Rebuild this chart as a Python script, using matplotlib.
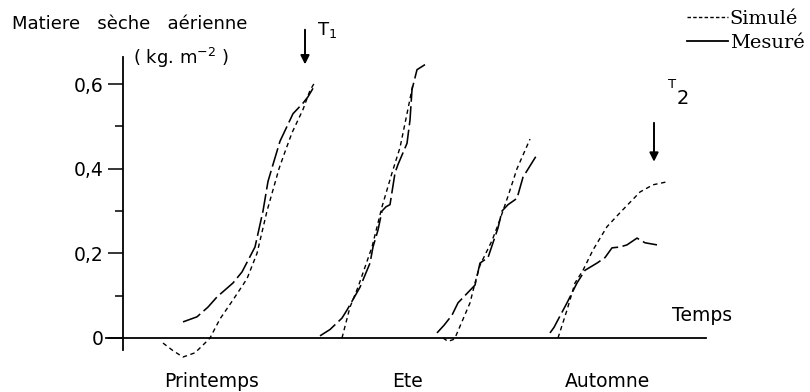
import matplotlib
matplotlib.use("Agg")
import matplotlib.pyplot as plt
from matplotlib.lines import Line2D

# Time axis in arbitrary units (origin at the vertical axis)
# --- Printemps ---
spring_sim_t = [40, 50, 60, 72, 82, 87, 97, 110, 124, 134, 139, 144, 150, 156, 162, 169, 180, 187, 192]
spring_sim_y = [-0.012, -0.03, -0.045, -0.035, -0.012, 0.0, 0.045, 0.09, 0.14, 0.20, 0.25, 0.30, 0.35,
                0.40, 0.44, 0.485, 0.54, 0.585, 0.605]
spring_mes_t = [60, 74, 85, 94, 110, 119, 132, 140, 145, 150, 157, 164, 170, 180, 185, 190]
spring_mes_y = [0.038, 0.05, 0.073, 0.097, 0.13, 0.156, 0.215, 0.30, 0.37, 0.41, 0.465, 0.50, 0.53,
                0.555, 0.57, 0.59]

# --- Ete ---
summer_sim_t = [219, 227, 235, 249, 259, 269, 277, 284, 290]
summer_sim_y = [0.0, 0.073, 0.12, 0.215, 0.31, 0.39, 0.45, 0.53, 0.60]
summer_mes_t = [197, 207, 219, 224, 237, 247, 250, 255, 259, 263, 267, 272, 275, 284, 287, 289, 294, 302]
summer_mes_y = [0.005, 0.02, 0.047, 0.066, 0.12, 0.177, 0.215, 0.255, 0.30, 0.31, 0.315, 0.39, 0.41,
                0.46, 0.515, 0.587, 0.634, 0.646]

# --- Third cycle ---
third_sim_t = [320, 325, 330, 332, 347, 352, 357, 369, 377, 385, 394, 407]
third_sim_y = [0.0, -0.008, -0.004, 0.0, 0.083, 0.13, 0.172, 0.23, 0.28, 0.335, 0.40, 0.47]
third_mes_t = [314, 321, 329, 335, 352, 357, 365, 370, 375, 379, 385, 394, 400, 415]
third_mes_y = [0.012, 0.03, 0.054, 0.083, 0.125, 0.177, 0.19, 0.225, 0.26, 0.30, 0.315, 0.33, 0.38, 0.437]

# --- Automne ---
autumn_sim_t = [435, 444, 452, 460, 470, 484, 497, 517, 530, 544]
autumn_sim_y = [0.0, 0.066, 0.13, 0.16, 0.208, 0.263, 0.296, 0.345, 0.362, 0.369]
autumn_mes_t = [427, 431, 435, 444, 454, 462, 474, 482, 489, 497, 504, 514, 522, 534]
autumn_mes_y = [0.012, 0.025, 0.043, 0.083, 0.13, 0.16, 0.177, 0.19, 0.213, 0.215, 0.22, 0.236,
                0.225, 0.22]

season_labels = ["Printemps", "Ete", "Automne"]
season_label_t = [89, 285, 484]

y_major = [0.0, 0.2, 0.4, 0.6]
y_major_labels = ["0", "0,2", "0,4", "0,6"]
y_minor = [0.1, 0.3, 0.5]

harvest_t = [182, 531]
harvest_labels = ["1", "2"]

SANS = "DejaVu Sans"
SERIF = "DejaVu Serif"
INK = "black"

sim_style = dict(color=INK, lw=1.0, linestyle=(0, (3.2, 2.6)), clip_on=False)
mes_style = dict(color=INK, lw=1.15, linestyle=(0, (12, 2.8)), clip_on=False)

fig = plt.figure(figsize=(8.10, 3.92), dpi=100)
ax = fig.add_axes([106 / 810, 42 / 392, 600 / 810, 293 / 392])
ax.set_xlim(-17, 583)
ax.set_ylim(-0.0284, 0.664)

pairs = [
    (spring_sim_t, spring_sim_y, spring_mes_t, spring_mes_y),
    (summer_sim_t, summer_sim_y, summer_mes_t, summer_mes_y),
    (third_sim_t, third_sim_y, third_mes_t, third_mes_y),
    (autumn_sim_t, autumn_sim_y, autumn_mes_t, autumn_mes_y),
]
for st, sy, mt, my in pairs:
    ax.plot(st, sy, **sim_style)
    ax.plot(mt, my, **mes_style)

# Axes drawn as plain crossing lines
for side in ("top", "right"):
    ax.spines[side].set_visible(False)
ax.spines["left"].set_position(("data", 0))
ax.spines["bottom"].set_position(("data", 0))
ax.spines["left"].set_linewidth(1.3)
ax.spines["bottom"].set_linewidth(1.3)

ax.set_xticks([])
ax.set_yticks(y_major)
ax.set_yticklabels(y_major_labels, fontfamily=SANS, fontsize=13.5)
ax.set_yticks(y_minor, minor=True)
ax.tick_params(axis="y", which="major", direction="out", length=11, width=1.1, pad=3)
ax.tick_params(axis="y", which="minor", direction="out", length=5.5, width=1.1)

# Season names under the time axis
for lab, t in zip(season_labels, season_label_t):
    ax.text(t, -0.104, lab, ha="center", va="center", fontsize=13.5, family=SANS, clip_on=False)

ax.text(549, 0.052, "Temps", ha="left", va="center", fontsize=13.5, family=SANS)

# Vertical axis title
fig.text(12 / 810, 1 - 24 / 392, "Matiere   sèche   aérienne", ha="left", va="center",
         fontsize=13, family=SANS)
fig.text(133 / 810, 1 - 58 / 392, "( kg. m$^{-2}$ )", ha="left", va="center",
         fontsize=13, family=SANS)

# Harvest markers T1 / T2
ax.annotate("", xy=(harvest_t[0], 0.64), xytext=(harvest_t[0], 0.735),
            arrowprops=dict(arrowstyle="-|>", color=INK, lw=1.4, mutation_scale=13),
            annotation_clip=False)
ax.text(harvest_t[0] + 12, 0.728, "T$_{" + harvest_labels[0] + "}$", fontsize=13, family=SANS,
        ha="left", va="center", clip_on=False)

ax.annotate("", xy=(harvest_t[1], 0.41), xytext=(harvest_t[1], 0.515),
            arrowprops=dict(arrowstyle="-|>", color=INK, lw=1.4, mutation_scale=13),
            annotation_clip=False)
ax.text(harvest_t[1] + 14, 0.6, "T", fontsize=9.5, family=SANS, ha="left", va="center")
ax.text(harvest_t[1] + 23, 0.565, harvest_labels[1], fontsize=14, family=SANS, ha="left", va="center")

# Legend
handles = [Line2D([], [], color=INK, lw=1.0, linestyle=(0, (2.5, 1.6))),
           Line2D([], [], color=INK, lw=1.3, linestyle="-")]
leg = fig.legend(handles, ["Simulé", "Mesuré"], loc="upper right", bbox_to_anchor=(1.01, 1.01),
                 frameon=False, prop=dict(family=SERIF, size=14), handlelength=2.1,
                 handletextpad=0.1, labelspacing=0.3, borderaxespad=0.3)

fig.savefig("out.png", dpi=100)
